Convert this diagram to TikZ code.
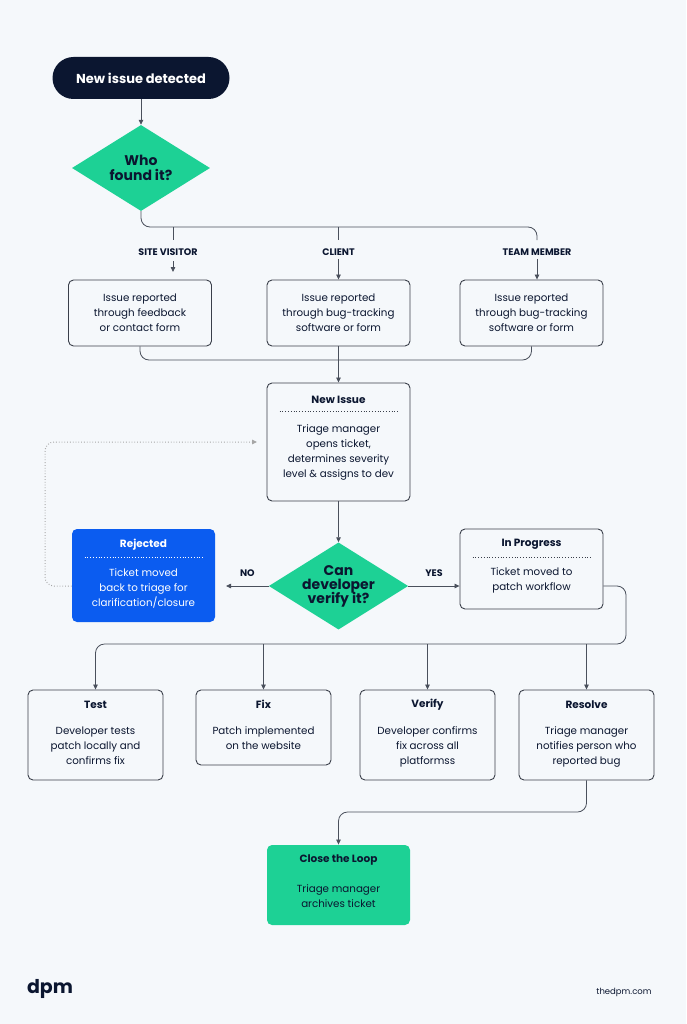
\documentclass[tikz,border=0pt]{standalone}
\usepackage{fontspec}
\setmainfont{Poppins}
\usetikzlibrary{positioning,shapes.geometric,arrows.meta}
\definecolor{bgcol}{HTML}{F5F8FB}
\definecolor{navy}{HTML}{0B1630}
\definecolor{mint}{HTML}{1DD195}
\definecolor{blue}{HTML}{0B5CF0}
\definecolor{linecol}{HTML}{4A505C}
\definecolor{boxcol}{HTML}{3A3F4A}
\tikzset{
  box/.style={draw=boxcol, line width=0.9pt, rounded corners=5pt, fill=bgcol, minimum width=143pt},
  ttl/.style={font=\fontsize{10.5}{12}\selectfont\bfseries, text=navy},
  body/.style={font=\fontsize{10.3}{15}\selectfont, text=navy, align=center},
  lbl/.style={font=\fontsize{9.5}{10}\selectfont\bfseries, text=navy},
  line/.style={draw=linecol, line width=0.8pt, rounded corners=9pt},
  arr/.style={line, -{Triangle[length=5pt,width=4.5pt]}},
  sep/.style={draw=boxcol, line width=0.8pt, dotted},
  dia/.style={diamond, fill=mint, aspect=1.6, inner sep=0pt, text=navy, align=center,
    font=\fontsize{14}{17}\selectfont\bfseries}
}
\begin{document}
\begin{tikzpicture}[x=1pt,y=-1pt]
  \fill[bgcol] (0,0) rectangle (686,1024);
  \useasboundingbox (0,0) rectangle (686,1024);

  % start and first decision
  \node[fill=navy, text=white, rounded corners=21pt, minimum width=177pt, minimum height=42pt,
    font=\fontsize{13}{15}\selectfont\bfseries] (start) at (141,78) {New issue detected};
  \node[dia, minimum width=138pt, minimum height=86pt] (who) at (141,168) {Who\\[-2pt]found it?};
  \draw[arr] (start) -- (who);

  % reporters
  \node[box, minimum height=66pt] (site) at (140,313) {};
  \node[box, minimum height=66pt] (client) at (338.5,313) {};
  \node[box, minimum height=66pt] (team) at (531.5,313) {};
  \node[body] (siteB) at (site) {Issue reported\\through feedback\\or contact form};
  \node[body] (clientB) at (client) {Issue reported\\through bug-tracking\\software or form};
  \node[body] (teamB) at (team) {Issue reported\\through bug-tracking\\software or form};
  \node[lbl] (siteL) at (168,252) {SITE VISITOR};
  \node[lbl] (clientL) at (338.5,252) {CLIENT};
  \node[lbl] (teamL) at (537,252) {TEAM MEMBER};
  \coordinate (fork) at (141,227);
  \draw[line] (who.south) -- (fork) -- (537,227) -- (537,240);
  \draw[line] (173,227) -- (173,240);
  \draw[line] (338.5,227) -- (338.5,240);
  \draw[arr] (173,261) -- (173,272);
  \draw[arr] (clientL.south) -- (clientL.south |- client.north);
  \draw[arr] (teamL.south) -- (teamL.south |- team.north);

  % new issue
  \node[box, minimum height=118pt] (newissue) at (338.5,442) {};
  \node[ttl] (newissueT) at ([yshift=-17pt]newissue.north) {New Issue};
  \draw[sep] ([xshift=13pt,yshift=-29pt]newissue.north west) -- ([xshift=-13pt,yshift=-29pt]newissue.north east);
  \node[body] (newissueB) at ([yshift=-70pt]newissue.north) {Triage manager\\opens ticket,\\determines severity\\level \& assigns to dev};
  \coordinate (merge) at (338.5,360);
  \draw[line] (site.south) -- (140,360) -- (merge);
  \draw[line] (team.south) -- (531.5,360) -- (merge);
  \draw[arr] (client.south) -- (newissue.north);

  % second decision
  \node[dia, minimum width=138pt, minimum height=86pt] (verify) at (338.5,586) {Can\\[-3pt]developer\\[-3pt]verify it?};
  \draw[arr] (newissue.south) -- (verify.north);

  \node[box, draw=none, fill=blue, minimum height=93pt] (rejected) at (143.5,575.5) {};
  \node[ttl, text=white] (rejectedT) at ([yshift=-16pt]rejected.north) {Rejected};
  \draw[sep, draw=white] ([xshift=13pt,yshift=-29pt]rejected.north west) -- ([xshift=-13pt,yshift=-29pt]rejected.north east);
  \node[body, text=white] (rejectedB) at ([yshift=-60pt]rejected.north) {Ticket moved\\back to triage for\\clarification/closure};

  \node[box, minimum height=80pt] (progress) at (531.5,569) {};
  \node[ttl] (progressT) at ([yshift=-16pt]progress.north) {In Progress};
  \draw[sep] ([xshift=13pt,yshift=-29pt]progress.north west) -- ([xshift=-13pt,yshift=-29pt]progress.north east);
  \node[body] (progressB) at ([yshift=-52pt]progress.north) {Ticket moved to\\patch workflow};

  \draw[arr] (verify.west) -- (226,586) node[lbl, pos=0.5, above=6pt] (no) {NO};
  \draw[arr] (verify.east) -- (progress.west |- verify.east) node[lbl, pos=0.5, above=6pt] (yes) {YES};
  \coordinate (back) at (257,442);
  \draw[line, draw=gray!70, dotted, line width=1pt, -{Triangle[length=5pt,width=4.5pt]}]
    (rejected.west |- verify.west) -- (45,586) -- (45,442) -- (back);

  % patch workflow
  \node[box, minimum width=135pt, minimum height=90pt] (test) at (95.5,735) {};
  \node[box, minimum width=135pt, minimum height=75pt] (fix) at (263.5,727.5) {};
  \node[box, minimum width=135pt, minimum height=90pt] (check) at (427.5,735) {};
  \node[box, minimum width=135pt, minimum height=90pt] (resolve) at (586.5,735) {};
  \node[ttl] (testT) at ([yshift=-15pt]test.north) {Test};
  \node[ttl] (fixT) at ([yshift=-15pt]fix.north) {Fix};
  \node[ttl] (checkT) at ([yshift=-15pt]check.north) {Verify};
  \node[ttl] (resolveT) at ([yshift=-15pt]resolve.north) {Resolve};
  \node[body, anchor=north] (testB) at ([yshift=-34pt]test.north) {Developer tests\\patch locally and\\confirms fix};
  \node[body, anchor=north] (fixB) at ([yshift=-34pt]fix.north) {Patch implemented\\on the website};
  \node[body, anchor=north] (checkB) at ([yshift=-34pt]check.north) {Developer confirms\\fix across all\\platformss};
  \node[body, anchor=north] (resolveB) at ([yshift=-34pt]resolve.north) {Triage manager\\notifies person who\\reported bug};
  \coordinate (split) at (626,644);
  \draw[arr] (progress.east |- verify.east) -- (626,586) -- (split) -- (95.5,644) -- (test.north);
  \foreach \n in {fix,check,resolve}
    \draw[arr] (\n.north |- split) -- (\n.north);

  % close the loop
  \node[box, draw=none, fill=mint, minimum height=80pt] (close) at (338.5,885) {};
  \node[ttl] (closeT) at ([yshift=-15pt]close.north) {Close the Loop};
  \node[body] (closeB) at ([yshift=-52pt]close.north) {Triage manager\\archives ticket};
  \draw[arr] (resolve.south) -- (586.5,812) -- (338.5,812) -- (close.north);

  % footer
  \node[font=\fontsize{19}{22}\selectfont\bfseries, text=navy] (logo) at (50,989) {dpm};
  \node[font=\fontsize{8.5}{10}\selectfont, text=navy] (url) at (624,992) {thedpm.com};
\end{tikzpicture}
\end{document}
